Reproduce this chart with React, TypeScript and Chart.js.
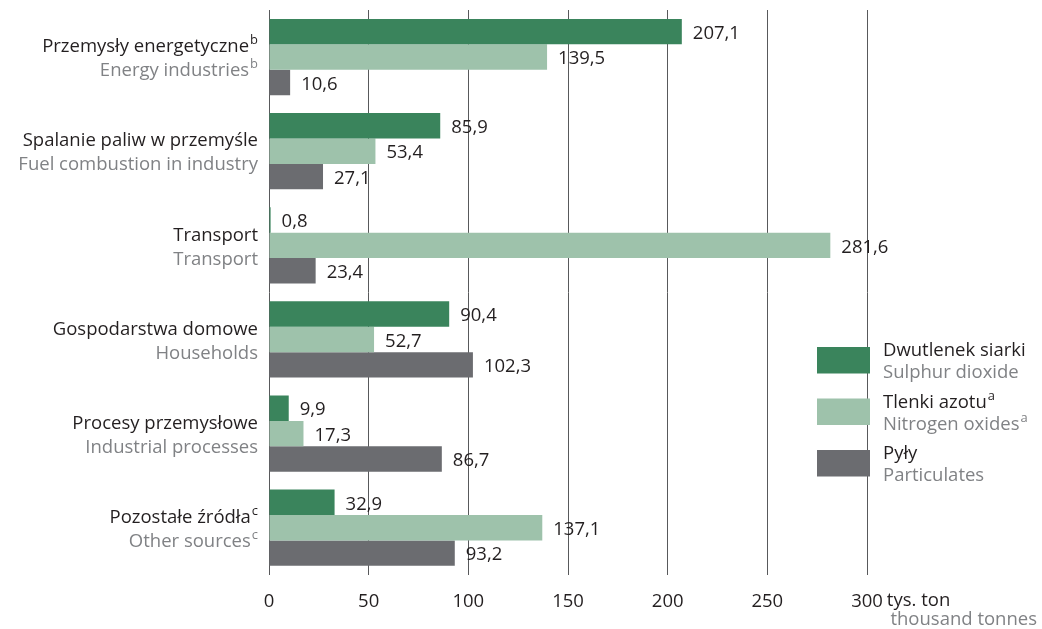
import React, { useEffect, useRef } from "react";
import { Chart, registerables } from "chart.js";

Chart.register(...registerables);

const categoriesPl = ["Przemysły energetyczne", "Spalanie paliw w przemyśle", "Transport", "Gospodarstwa domowe", "Procesy przemysłowe", "Pozostałe źródła"];
const categoriesEn = ["Energy industries", "Fuel combustion in industry", "Transport", "Households", "Industrial processes", "Other sources"];
const categoryNotes = ["b", "", "", "", "", "c"];

const sulphurDioxide = [207.1, 85.9, 0.8, 90.4, 9.9, 32.9];
const nitrogenOxides = [139.5, 53.4, 281.6, 52.7, 17.3, 137.1];
const particulates = [10.6, 27.1, 23.4, 102.3, 86.7, 93.2];

const seriesPl = ["Dwutlenek siarki", "Tlenki azotu", "Pyły"];
const seriesEn = ["Sulphur dioxide", "Nitrogen oxides", "Particulates"];
const seriesNotes = ["", "a", ""];
const seriesColors = ["#3a845c", "#9ec2ab", "#6b6c70"];

const xTicks = [0, 50, 100, 150, 200, 250, 300];
const unitPl = "tys. ton";
const unitEn = "thousand tonnes";

const FONT = "'Open Sans', 'Noto Sans', sans-serif";
const FS = 18.5;
const BLACK = "#231f20";
const GRAY = "#808285";

function fmt(v: number) {
  return v.toFixed(1).replace(".", ",");
}

function drawWithSup(ctx: CanvasRenderingContext2D, text: string, sup: string, x: number, y: number, size: number, align: "left" | "right") {
  ctx.font = `${size}px ${FONT}`;
  const w = ctx.measureText(text).width;
  ctx.font = `${size * 0.7}px ${FONT}`;
  const sw = sup ? ctx.measureText(sup).width + 1 : 0;
  const startX = align === "right" ? x - w - sw : x;
  ctx.textAlign = "left";
  ctx.textBaseline = "middle";
  ctx.font = `${size}px ${FONT}`;
  ctx.fillText(text, startX, y);
  if (sup) {
    ctx.font = `${size * 0.7}px ${FONT}`;
    ctx.fillText(sup, startX + w + 1, y - size * 0.35);
  }
}

const customPlugin = {
  id: "custom",
  afterDatasetsDraw(chart: any) {
    const ctx = chart.ctx as CanvasRenderingContext2D;
    const yScale = chart.scales.y;
    const xScale = chart.scales.x;
    ctx.save();
    categoriesPl.forEach((c, i) => {
      const cy = yScale.getPixelForValue(i);
      ctx.fillStyle = BLACK;
      drawWithSup(ctx, c, categoryNotes[i], 258, cy - 10, FS, "right");
      ctx.fillStyle = GRAY;
      drawWithSup(ctx, categoriesEn[i], categoryNotes[i], 258, cy + 14, FS, "right");
    });
    chart.data.datasets.forEach((ds: any, di: number) => {
      const meta = chart.getDatasetMeta(di);
      meta.data.forEach((bar: any, i: number) => {
        ctx.fillStyle = BLACK;
        ctx.font = `${FS}px ${FONT}`;
        ctx.textAlign = "left";
        ctx.textBaseline = "middle";
        ctx.fillText(fmt(ds.data[i]), bar.x + 11, bar.y + 2);
      });
    });
    const x300 = xScale.getPixelForValue(300);
    ctx.font = `${FS}px ${FONT}`;
    ctx.fillStyle = BLACK;
    ctx.textAlign = "left";
    ctx.textBaseline = "middle";
    const w300 = ctx.measureText("300").width;
    ctx.fillText(unitPl, x300 + w300 / 2 + 4, 601);
    ctx.fillStyle = GRAY;
    ctx.textAlign = "right";
    ctx.fillText(unitEn, 1037, 620);
    seriesPl.forEach((s, i) => {
      const top = 347 + i * 51.5;
      ctx.fillStyle = seriesColors[i];
      ctx.fillRect(817, top, 53, 26.5);
      ctx.fillStyle = BLACK;
      drawWithSup(ctx, s, seriesNotes[i], 883, top + 4, FS, "left");
      ctx.fillStyle = GRAY;
      drawWithSup(ctx, seriesEn[i], seriesNotes[i], 883, top + 26, FS, "left");
    });
    ctx.restore();
  },
};

export default function App() {
  const ref = useRef<HTMLCanvasElement>(null);
  useEffect(() => {
    document.body.style.margin = "0";
    const chart = new Chart(ref.current!, {
      type: "bar",
      data: {
        labels: categoriesPl,
        datasets: [
          { label: seriesEn[0], data: sulphurDioxide, backgroundColor: seriesColors[0] },
          { label: seriesEn[1], data: nitrogenOxides, backgroundColor: seriesColors[1] },
          { label: seriesEn[2], data: particulates, backgroundColor: seriesColors[2] },
        ],
      },
      options: {
        indexAxis: "y",
        animation: false,
        responsive: false,
        maintainAspectRatio: false,
        layout: { padding: { left: 269, right: 175, top: 10, bottom: 0 } },
        datasets: { bar: { barPercentage: 1, categoryPercentage: 0.81 } },
        plugins: { legend: { display: false }, tooltip: { enabled: false } },
        scales: {
          x: {
            min: 0,
            max: 300,
            afterBuildTicks: (axis: any) => {
              axis.ticks = xTicks.map((v) => ({ value: v }));
            },
            grid: { color: "#58595b", lineWidth: 1, drawTicks: false },
            border: { display: false },
            ticks: { font: { family: FONT, size: FS }, color: BLACK, padding: 16, maxRotation: 0 },
          },
          y: {
            display: false,
          },
        },
      },
      plugins: [customPlugin],
    });
    return () => chart.destroy();
  }, []);
  return (
    <div style={{ width: 1042, height: 629, position: "relative", background: "#fff" }}>
      <canvas ref={ref} width={1042} height={629} style={{ width: 1042, height: 629 }} />
    </div>
  );
}
